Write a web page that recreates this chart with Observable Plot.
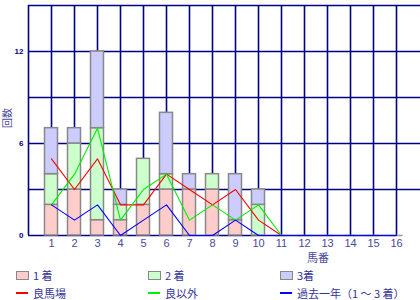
<!DOCTYPE html>
<html><head><meta charset="utf-8">
<script src="https://cdn.jsdelivr.net/npm/d3@7"></script>
<script src="https://cdn.jsdelivr.net/npm/@observablehq/plot@0.6"></script>
<style>
body{margin:0;background:#fff;}
#wrap{position:relative;width:420px;height:300px;overflow:hidden;font-family:"Noto Sans CJK JP",sans-serif;}
.t{position:absolute;font-size:11px;line-height:12px;color:#333399;white-space:nowrap;}
.sw{position:absolute;width:11px;height:7px;border:1px solid #888;}
.ln{position:absolute;width:12px;height:2px;}
</style></head><body><div id="wrap"></div>
<script>
const horses = [1,2,3,4,5,6,7,8,9,10,11,12,13,14,15,16];
const first  = [2,3,1,1,2,3,3,3,1,0,0,0,0,0,0,0];
const second = [2,3,6,1,3,1,0,1,0,2,0,0,0,0,0,0];
const third  = [3,1,5,1,0,4,1,0,3,1,0,0,0,0,0,0];
const goodGround  = [5,3,5,2,2,4,3,2,3,1,0];
const otherGround = [2,4,7,1,3,4,1,2,1,2,0];
const pastYear    = [2,1,2,0,1,2,0,0,1,0,0,0,0,0,0,0];
const yTicks = [0,6,12];
const yGrid = [3,6,9,12,15];
const seriesNames = ["1 着","2 着","3着"];
const lineNames = ["良馬場","良以外","過去一年（1 ～ 3 着）"];
const barColors = ["#ffcccc","#ccffcc","#ccccff"];
const lineColors = ["#ff0000","#00ee00","#0000ff"];

const rows = horses.flatMap((h,i)=>{
  let base = 0; const out = [];
  [first,second,third].forEach((arr,k)=>{
    const v = arr[i];
    if (v > 0) out.push({h, k, y1: base, y2: base + v});
    base += v;
  });
  return out;
});
const zeroBars = horses.filter((h,i)=> first[i]+second[i]+third[i] === 0);
const toPts = (arr)=> arr.map((v,i)=>({h: horses[i], v}));

const navy = "#000080";
const chart = Plot.plot({
  width: 420, height: 262,
  marginLeft: 28, marginRight: 0, marginTop: 5, marginBottom: 27,
  x: {domain: [0, 392/23], axis: null},
  y: {domain: [0, 15], axis: null},
  style: {background: "transparent"},
  marks: [
    Plot.ruleX(d3.range(0,17), {stroke: navy, strokeWidth: 1.6}),
    Plot.ruleY(yGrid, {stroke: navy, strokeWidth: 1.6}),
    Plot.ruleY([0], {x1: 0, x2: 16, stroke: navy, strokeWidth: 1.6}),
    Plot.rectY(rows, {x1: d=>d.h-0.5, x2: d=>d.h+0.5, y1: "y1", y2: "y2", insetLeft: 5, insetRight: 5,
      fill: d=>barColors[d.k], stroke: "#888", strokeWidth: 1.5}),
    Plot.ruleY(zeroBars, {y: 0, x1: d=>d-0.5, x2: d=>d+0.5, insetLeft: 5, insetRight: 5, stroke: "#999", strokeWidth: 1.5}),
    Plot.line(toPts(goodGround), {x: "h", y: "v", stroke: lineColors[0], strokeWidth: 1.1}),
    Plot.line(toPts(otherGround), {x: "h", y: "v", stroke: lineColors[1], strokeWidth: 1.1}),
    Plot.line(toPts(pastYear), {x: "h", y: "v", stroke: lineColors[2], strokeWidth: 1.1}),
    Plot.axisX(horses, {label: null, tickSize: 0, tickPadding: 4, fontSize: 11, fill: "#4a4a9c", fontFamily: "Liberation Sans, sans-serif"}),
    Plot.axisY(yTicks, {label: null, tickSize: 0, tickPadding: 5, fontSize: 8, fontWeight: "bold", fill: navy, fontFamily: "Liberation Sans, sans-serif"})
  ]
});
const wrap = document.getElementById("wrap");
chart.style.position = "absolute"; chart.style.left = "0"; chart.style.top = "0";
wrap.appendChild(chart);

function add(html){ wrap.insertAdjacentHTML("beforeend", html); }
add(`<div class="t" style="left:307px;top:251px;color:#4a4a9c">馬番</div>`);
add(`<div class="t" style="left:-3px;top:112px;font-size:10px;color:#4a4a9c;transform:rotate(-90deg)">回数</div>`);
const cols = [16,148,280];
seriesNames.forEach((n,i)=>{
  add(`<div class="sw" style="left:${cols[i]}px;top:271px;background:${barColors[i]}"></div>`);
  add(`<div class="t" style="left:${cols[i]+17}px;top:269px">${n}</div>`);
});
lineNames.forEach((n,i)=>{
  add(`<div class="ln" style="left:${cols[i]}px;top:292px;background:${lineColors[i]}"></div>`);
  add(`<div class="t" style="left:${cols[i]+17}px;top:287px">${n}</div>`);
});
</script></body></html>
